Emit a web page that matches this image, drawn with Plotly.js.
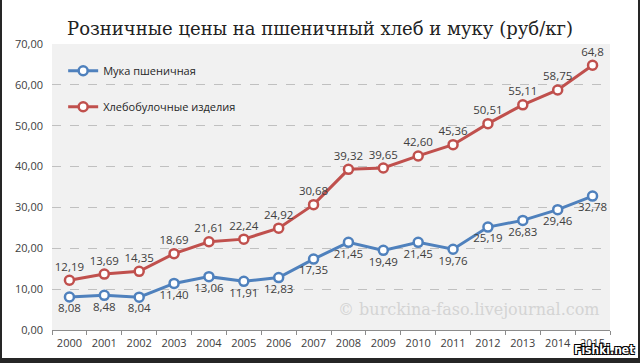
<!DOCTYPE html>
<html>
<head>
<meta charset="utf-8">
<script src="https://cdn.plot.ly/plotly-3.0.1.min.js"></script>
<style>
  html, body { margin: 0; padding: 0; background: #262626; width: 640px; height: 363px; overflow: hidden; }
  #chart { position: absolute; left: 2px; top: 0; width: 636px; height: 358px; background: #fff; }
</style>
</head>
<body>
<div id="chart"></div>
<script>
const years = ['2000','2001','2002','2003','2004','2005','2006','2007','2008','2009','2010','2011','2012','2013','2014','2015'];
const flour = [8.08, 8.48, 8.04, 11.40, 13.06, 11.91, 12.83, 17.35, 21.45, 19.49, 21.45, 19.76, 25.19, 26.83, 29.46, 32.78];
const bread = [12.19, 13.69, 14.35, 18.69, 21.61, 22.24, 24.92, 30.68, 39.32, 39.65, 42.60, 45.36, 50.51, 55.11, 58.75, 64.8];
const flourLabels = ['8,08','8,48','8,04','11,40','13,06','11,91','12,83','17,35','21,45','19,49','21,45','19,76','25,19','26,83','29,46','32,78'];
const breadLabels = ['12,19','13,69','14,35','18,69','21,61','22,24','24,92','30,68','39,32','39,65','42,60','45,36','50,51','55,11','58,75','64,8'];
const yTicks = [0, 10, 20, 30, 40, 50, 60, 70];
const seriesNames = ['Мука пшеничная', 'Хлебобулочные изделия'];

const FONT = 'Open Sans, Noto Sans, sans-serif';
const TXT = '#404040';

function series(name, y, labels, color, pos, group) {
  return {
    type: 'scatter', mode: 'lines+markers+text', name: name, legendgroup: group,
    x: years, y: y, text: labels, textposition: pos,
    textfont: { family: FONT, size: 11.5, color: TXT },
    line: { color: color, width: 3 },
    marker: { symbol: 'circle', size: 9, color: '#ffffff', line: { color: color, width: 2.5 } },
    cliponaxis: false, hoverinfo: 'x+y'
  };
}

const data = [
  series(seriesNames[0], flour, flourLabels, '#4f81bd', 'bottom center', 'a'),
  series(seriesNames[1], bread, breadLabels, '#c0504d', 'top center', 'b')
];

const layout = {
  width: 636, height: 358,
  margin: { l: 50, r: 28, t: 44, b: 28 },
  paper_bgcolor: '#ffffff', plot_bgcolor: '#f1f1f1',
  font: { family: FONT, size: 11, color: TXT },
  title: {
    text: 'Розничные цены на пшеничный хлеб и муку (руб/кг)',
    font: { family: 'DejaVu Serif, serif', size: 18, color: '#222' },
    xref: 'container', x: 0.5, xanchor: 'center', yref: 'container', y: 0.92, yanchor: 'middle'
  },
  showlegend: true,
  legend: {
    x: 0.02, xanchor: 'left', y: 0.957, yanchor: 'top',
    bgcolor: 'rgba(0,0,0,0)', traceorder: 'grouped', tracegroupgap: 17,
    font: { family: FONT, size: 11, color: '#262626' }
  },
  xaxis: {
    type: 'category', range: [-0.5, 15.5], showgrid: false,
    showline: true, linecolor: '#8c8c8c', linewidth: 1,
    ticks: 'outside', tickson: 'boundaries', ticklen: 4, tickcolor: '#8c8c8c',
    tickangle: 0, ticklabelstandoff: 3, automargin: false,
    tickfont: { family: FONT, size: 11, color: TXT }, fixedrange: true
  },
  yaxis: {
    range: [0, 70], tickvals: yTicks, tickformat: '.2f',
    showgrid: true, gridcolor: '#c0c0c0', griddash: 'dash', gridwidth: 1,
    zeroline: false, showline: false, ticks: '', ticklabelstandoff: 8,
    tickfont: { family: FONT, size: 11, color: TXT }, fixedrange: true
  },
  separators: ',.',
  annotations: [
    { text: '© burckina-faso.livejournal.com', xref: 'paper', yref: 'paper', x: 0.985, y: 0.07,
      xanchor: 'right', yanchor: 'middle', showarrow: false,
      font: { family: 'DejaVu Serif, serif', size: 16, color: '#d4d4d4' } },
    { text: '<b>Fishki.net</b>', xref: 'paper', yref: 'paper', x: 1.046, y: -0.1,
      xanchor: 'right', yanchor: 'bottom', showarrow: false,
      font: { family: 'DejaVu Sans Condensed, DejaVu Sans, sans-serif', size: 12, color: '#ffffff',
        shadow: '1px 1px 0 #000, -1px -1px 0 #000, 1px -1px 0 #000, -1px 1px 0 #000' } }
  ]
};

Plotly.newPlot('chart', data, layout, { displayModeBar: false, staticPlot: true });
</script>
</body>
</html>
